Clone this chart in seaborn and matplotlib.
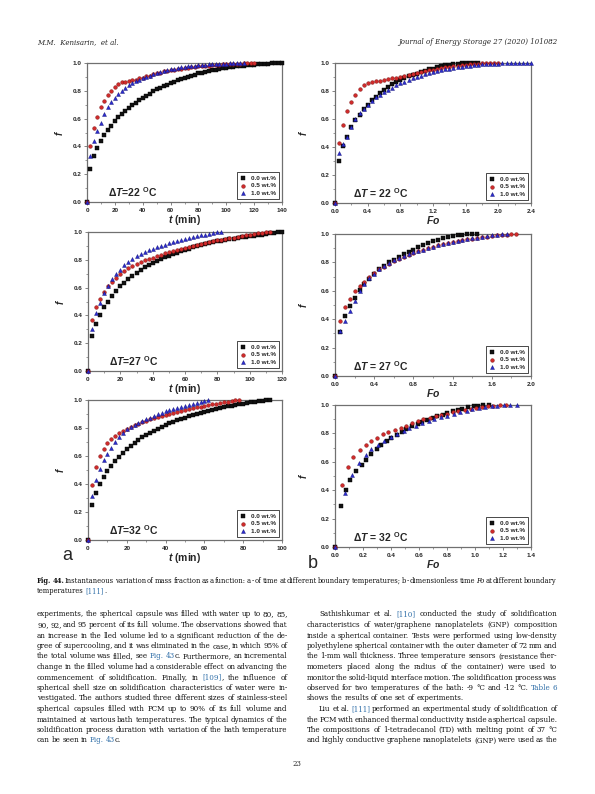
import matplotlib
matplotlib.use('Agg')
import matplotlib.pyplot as plt
import seaborn as sns
import numpy as np
from matplotlib.ticker import MultipleLocator, FormatStrFormatter
from matplotlib.font_manager import FontProperties

W, H = 595, 794

# ---- data ----
SERIES = ['0.0 wt.%', '0.5 wt.%', '1.0 wt.%']

# time grid (min) used in panels a (22 and 27 C)
T_MIN = [0, 2.5, 5, 7.5, 10, 12.5, 15, 17.5, 20, 22.5, 25, 27.5, 30, 32.5, 35, 37.5,
         40, 42.5, 45, 47.5, 50, 52.5, 55, 57.5, 60, 62.5, 65, 67.5, 70, 72.5, 75,
         77.5, 80, 82.5, 85, 87.5, 90, 92.5, 95, 97.5, 100, 102.5, 105, 107.5, 110,
         112.5, 115, 117.5, 120, 122.5, 125, 127.5, 130, 132.5, 135, 137.5, 140]
# time grid (min) for 32 C
T_MIN32 = [0, 2, 4, 6, 8, 10, 12, 14, 16, 18, 20, 22, 24, 26, 28, 30, 32, 34, 36, 38,
           40, 42, 44, 46, 48, 50, 52, 54, 56, 58, 60, 62, 64, 66, 68, 70, 72, 74, 76,
           78, 80, 82, 84, 86, 88, 90, 92, 94]
# Fo grid for panels b (22 and 27 C)
FO = [0, 0.05, 0.1, 0.15, 0.2, 0.25, 0.3, 0.35, 0.4, 0.45, 0.5, 0.55, 0.6, 0.65, 0.7,
      0.75, 0.8, 0.85, 0.9, 0.95, 1.0, 1.05, 1.1, 1.15, 1.2, 1.25, 1.3, 1.35, 1.4, 1.45,
      1.5, 1.55, 1.6, 1.65, 1.7, 1.75, 1.8, 1.85, 1.9, 1.95, 2.0, 2.05, 2.1, 2.15, 2.2,
      2.25, 2.3, 2.35, 2.4]

f22_t_00 = [0, 0.24, 0.33, 0.39, 0.44, 0.48, 0.52, 0.55, 0.58, 0.61,
            0.63, 0.655, 0.675, 0.695, 0.715, 0.735, 0.75, 0.765, 0.78, 0.795,
            0.81, 0.82, 0.835, 0.845, 0.855, 0.865, 0.875, 0.885, 0.893, 0.90,
            0.91, 0.917, 0.925, 0.93, 0.937, 0.943, 0.948, 0.953, 0.958, 0.962,
            0.966, 0.97, 0.973, 0.976, 0.979, 0.981, 0.984, 0.986, 0.988, 0.99,
            0.992, 0.994, 0.995, 0.997, 0.998, 0.999, 1.0]
f22_t_05 = [0, 0.40, 0.53, 0.61, 0.68, 0.73, 0.77, 0.80, 0.83, 0.85,
            0.86, 0.865, 0.87, 0.875, 0.88, 0.89, 0.895, 0.905, 0.91, 0.92,
            0.925, 0.93, 0.94, 0.945, 0.95, 0.953, 0.957, 0.96, 0.963, 0.966,
            0.97, 0.972, 0.975, 0.977, 0.98, 0.982, 0.984, 0.986, 0.988, 0.99,
            0.991, 0.993, 0.994, 0.995, 0.996, 0.997, 0.998, 0.999, 1.0]
f22_t_10 = [0, 0.33, 0.44, 0.51, 0.57, 0.63, 0.68, 0.72, 0.75, 0.78,
            0.80, 0.82, 0.84, 0.855, 0.87, 0.88, 0.89, 0.90, 0.91, 0.92,
            0.93, 0.935, 0.94, 0.95, 0.955, 0.96, 0.964, 0.968, 0.972, 0.975,
            0.978, 0.981, 0.984, 0.986, 0.988, 0.99, 0.992, 0.993, 0.994, 0.995,
            0.996, 0.997, 0.998, 0.999, 1.0, 1.0]

f27_t_00 = [0, 0.25, 0.34, 0.40, 0.46, 0.50, 0.54, 0.575, 0.61, 0.635,
            0.66, 0.685, 0.705, 0.725, 0.745, 0.76, 0.775, 0.79, 0.805, 0.82,
            0.83, 0.84, 0.85, 0.86, 0.87, 0.88, 0.89, 0.898, 0.905, 0.912,
            0.92, 0.926, 0.932, 0.938, 0.943, 0.948, 0.953, 0.958, 0.962, 0.966,
            0.97, 0.974, 0.978, 0.982, 0.986, 0.99, 0.994, 0.997, 1.0]
f27_t_05 = [0, 0.365, 0.46, 0.52, 0.57, 0.61, 0.64, 0.67, 0.695, 0.72,
            0.74, 0.755, 0.77, 0.785, 0.795, 0.805, 0.815, 0.826, 0.836, 0.846,
            0.855, 0.863, 0.872, 0.88, 0.888, 0.895, 0.902, 0.909, 0.915, 0.921,
            0.927, 0.933, 0.94, 0.945, 0.95, 0.955, 0.96, 0.965, 0.97, 0.975,
            0.98, 0.985, 0.99, 0.994, 0.997, 1.0]
f27_t_10 = [0, 0.30, 0.415, 0.49, 0.56, 0.61, 0.66, 0.70, 0.73, 0.76,
            0.785, 0.805, 0.825, 0.84, 0.855, 0.868, 0.88, 0.89, 0.90, 0.91,
            0.92, 0.928, 0.935, 0.942, 0.95, 0.955, 0.962, 0.968, 0.975, 0.98,
            0.986, 0.992, 0.997, 1.0]

f32_t_00 = [0, 0.25, 0.335, 0.40, 0.45, 0.49, 0.53, 0.565, 0.595, 0.625,
            0.65, 0.675, 0.695, 0.715, 0.735, 0.75, 0.765, 0.78, 0.795, 0.81,
            0.82, 0.835, 0.845, 0.855, 0.865, 0.875, 0.885, 0.893, 0.90, 0.91,
            0.917, 0.924, 0.93, 0.937, 0.943, 0.95, 0.955, 0.96, 0.965, 0.97,
            0.975, 0.98, 0.984, 0.988, 0.992, 0.995, 0.998, 1.0]
f32_t_05 = [0, 0.395, 0.525, 0.60, 0.65, 0.69, 0.72, 0.745, 0.765, 0.78,
            0.795, 0.808, 0.82, 0.832, 0.843, 0.853, 0.862, 0.872, 0.88, 0.888,
            0.895, 0.903, 0.91, 0.917, 0.923, 0.93, 0.936, 0.942, 0.948, 0.953,
            0.958, 0.963, 0.968, 0.973, 0.978, 0.983, 0.988, 0.993, 0.997, 1.0]
f32_t_10 = [0, 0.315, 0.43, 0.51, 0.57, 0.615, 0.66, 0.70, 0.735, 0.765,
            0.79, 0.805, 0.82, 0.835, 0.85, 0.862, 0.875, 0.887, 0.898, 0.908,
            0.918, 0.928, 0.937, 0.945, 0.953, 0.96, 0.967, 0.974, 0.981, 0.988,
            0.994, 1.0]

f22_fo_00 = [0, 0.30, 0.41, 0.47, 0.54, 0.59, 0.63, 0.67, 0.70, 0.735,
             0.76, 0.785, 0.81, 0.83, 0.85, 0.865, 0.88, 0.895, 0.905, 0.915,
             0.925, 0.935, 0.945, 0.955, 0.96, 0.97, 0.977, 0.983, 0.988, 0.992,
             0.995, 0.997, 0.999, 1.0, 1.0, 1.0]
f22_fo_05 = [0, 0.43, 0.56, 0.655, 0.725, 0.775, 0.815, 0.84, 0.855, 0.862,
             0.868, 0.873, 0.878, 0.884, 0.89, 0.896, 0.902, 0.908, 0.915, 0.922,
             0.928, 0.935, 0.941, 0.947, 0.953, 0.958, 0.963, 0.968, 0.973, 0.977,
             0.981, 0.985, 0.988, 0.991, 0.994, 0.996, 0.998, 0.999, 1.0, 1.0, 1.0]
f22_fo_10 = [0, 0.36, 0.42, 0.475, 0.54, 0.60, 0.64, 0.67, 0.70, 0.73,
             0.755, 0.775, 0.795, 0.81, 0.825, 0.84, 0.855, 0.865, 0.878, 0.89,
             0.90, 0.91, 0.918, 0.927, 0.935, 0.942, 0.948, 0.955, 0.96, 0.965,
             0.97, 0.975, 0.979, 0.982, 0.985, 0.988, 0.99, 0.992, 0.994, 0.995,
             0.996, 0.997, 0.998, 0.999, 1.0, 1.0, 1.0, 1.0, 1.0]

f27_fo_00 = [0, 0.31, 0.42, 0.49, 0.55, 0.605, 0.65, 0.685, 0.72, 0.75,
             0.775, 0.80, 0.82, 0.84, 0.86, 0.875, 0.89, 0.905, 0.92, 0.935,
             0.948, 0.96, 0.97, 0.978, 0.985, 0.991, 0.996, 1.0, 1.0, 1.0]
f27_fo_05 = [0, 0.39, 0.485, 0.545, 0.60, 0.635, 0.665, 0.695, 0.725, 0.75,
             0.77, 0.79, 0.81, 0.825, 0.84, 0.855, 0.868, 0.88, 0.89, 0.90,
             0.91, 0.92, 0.928, 0.936, 0.944, 0.951, 0.957, 0.963, 0.968, 0.973,
             0.978, 0.982, 0.986, 0.99, 0.993, 0.996, 0.998, 1.0]
f27_fo_10 = [0, 0.32, 0.39, 0.46, 0.53, 0.60, 0.65, 0.69, 0.72, 0.75,
             0.775, 0.795, 0.815, 0.83, 0.845, 0.86, 0.87, 0.88, 0.89, 0.90,
             0.91, 0.92, 0.928, 0.936, 0.944, 0.951, 0.958, 0.964, 0.97, 0.975,
             0.98, 0.985, 0.99, 0.994, 0.997, 1.0]

fo32_00 = [0, 0.04, 0.08, 0.11, 0.15, 0.19, 0.22, 0.26, 0.30, 0.33,
           0.37, 0.40, 0.44, 0.48, 0.51, 0.55, 0.59, 0.62, 0.66, 0.70,
           0.73, 0.77, 0.80, 0.84, 0.88, 0.91, 0.95, 0.99, 1.02, 1.06, 1.10]
f32_fo_00 = [0, 0.29, 0.40, 0.47, 0.535, 0.575, 0.615, 0.655, 0.69, 0.72,
             0.745, 0.77, 0.79, 0.81, 0.83, 0.85, 0.865, 0.88, 0.895, 0.91,
             0.92, 0.93, 0.945, 0.955, 0.965, 0.975, 0.985, 0.99, 0.995, 1.0, 1.0]
fo32_05 = [0, 0.05, 0.09, 0.13, 0.18, 0.22, 0.26, 0.30, 0.34, 0.38,
           0.43, 0.47, 0.51, 0.55, 0.59, 0.63, 0.68, 0.72, 0.76, 0.80,
           0.84, 0.88, 0.93, 0.97, 1.01, 1.05, 1.09, 1.13, 1.18, 1.22]
f32_fo_05 = [0, 0.435, 0.565, 0.635, 0.685, 0.72, 0.75, 0.77, 0.795, 0.81,
             0.825, 0.84, 0.855, 0.87, 0.885, 0.90, 0.91, 0.92, 0.93, 0.94,
             0.95, 0.96, 0.965, 0.972, 0.978, 0.984, 0.99, 0.994, 0.997, 1.0]
fo32_10 = [0, 0.07, 0.12, 0.17, 0.22, 0.26, 0.31, 0.35, 0.40, 0.44,
           0.49, 0.53, 0.58, 0.62, 0.67, 0.71, 0.76, 0.80, 0.85, 0.89,
           0.94, 0.98, 1.03, 1.07, 1.12, 1.16, 1.21, 1.25, 1.30]
f32_fo_10 = [0, 0.38, 0.51, 0.59, 0.65, 0.69, 0.72, 0.75, 0.775, 0.795,
             0.815, 0.835, 0.855, 0.87, 0.885, 0.90, 0.915, 0.925, 0.94, 0.95,
             0.96, 0.97, 0.978, 0.985, 0.99, 0.994, 0.997, 0.999, 1.0]

# ---- page text ----
CAPTION = [
    '#Fig. #44. Instantaneous variation of mass fraction as a function: a - of time at '
    'different boundary temperatures; b - dimensionless time ~Fo at different boundary',
    'temperatures @[111]|.',
]
LEFT = [
    'experiments, the spherical capsule was filled with water up to 80, 85,',
    '90, 92, and 95 percent of its full volume. The observations showed that',
    'an increase in the lled volume led to a significant reduction of the de-',
    'gree of supercooling, and it was eliminated in the case, in which 95% of',
    'the total volume was filled, see @Fig. @43|c. Furthermore, an incremental',
    'change in the filled volume had a considerable effect on advancing the',
    'commencement of solidification. Finally, in @[109]|, the influence of',
    'spherical shell size on solidification characteristics of water were in-',
    'vestigated. The authors studied three different sizes of stainless-steel',
    'spherical capsules filled with PCM up to 90% of its full volume and',
    'maintained at various bath temperatures. The typical dynamics of the',
    'solidification process duration with variation of the bath temperature',
    'can be seen in @Fig. @43|c.',
]
RIGHT = [
    'Sathishkumar et al. @[110] conducted the study of solidification',
    'characteristics of water/graphene nanoplatelets (GNP) composition',
    'inside a spherical container. Tests were performed using low-density',
    'polyethylene spherical container with the outer diameter of 72 mm and',
    'the 1-mm wall thickness. Three temperature sensors (resistance ther-',
    'mometers placed along the radius of the container) were used to',
    'monitor the solid-liquid interface motion. The solidification process was',
    'observed for two temperatures of the bath: -9 °C and -12 °C. @Table @6',
    'shows the results of one set of experiments.',
    'Liu et al. @[111] performed an experimental study of solidification of',
    'the PCM with enhanced thermal conductivity inside a spherical capsule.',
    'The compositions of 1-tetradecanol (TD) with melting point of 37 °C',
    'and highly conductive graphene nanoplatelets (GNP) were used as the',
]

# ---- styling ----
MARKERS = ['s', 'o', '^']
FACE = ['#111111', '#d02a2a', '#2a2ad0']
EDGE = ['#000000', '#7a1010', '#101070']
SIZES = [5, 7, 8]

sns.set_style('ticks')
plt.rcParams['font.family'] = ['Liberation Sans', 'DejaVu Sans']
plt.rcParams['mathtext.fontset'] = 'custom'
plt.rcParams['mathtext.rm'] = 'Liberation Sans:bold'
plt.rcParams['mathtext.it'] = 'Liberation Sans:italic:bold'
plt.rcParams['mathtext.bf'] = 'Liberation Sans:bold'

fig = plt.figure(figsize=(W / 100, H / 100), dpi=100)
fig.patch.set_facecolor('white')


def rect(l, r, t, b):
    return [l / W, 1 - b / H, (r - l) / W, (b - t) / H]


def panel(box, xs, ys, xmax, xmajor, xlabel, note, ylabpad):
    ax = fig.add_axes(box)
    for i in range(3):
        x = xs[i][:len(ys[i])]
        sns.scatterplot(x=x, y=ys[i], ax=ax, marker=MARKERS[i], s=SIZES[i],
                        color=FACE[i], edgecolor=EDGE[i], linewidth=0.3,
                        label=SERIES[i], clip_on=False, zorder=3 + i)
    ax.set_xlim(0, xmax)
    ax.set_ylim(0, 1.0)
    ax.xaxis.set_major_locator(MultipleLocator(xmajor))
    ax.xaxis.set_minor_locator(MultipleLocator(xmajor / 2))
    ax.yaxis.set_major_locator(MultipleLocator(0.2))
    ax.yaxis.set_minor_locator(MultipleLocator(0.1))
    ax.yaxis.set_major_formatter(FormatStrFormatter('%.1f'))
    if xmajor < 1:
        ax.xaxis.set_major_formatter(FormatStrFormatter('%.1f'))
    else:
        ax.xaxis.set_major_formatter(FormatStrFormatter('%d'))
    for s in ax.spines.values():
        s.set_color('#707070')
        s.set_linewidth(0.9)
    ax.tick_params(which='major', direction='out', length=2.5, width=0.6,
                   color='#707070', labelsize=4.6, pad=1.5)
    ax.tick_params(which='minor', direction='out', length=1.4, width=0.5,
                   color='#707070')
    for lab in ax.get_xticklabels() + ax.get_yticklabels():
        lab.set_fontweight('bold')
    ax.set_xlabel(xlabel, fontsize=7.5, fontweight='bold', labelpad=0.5)
    ax.set_ylabel(r'$f$', fontsize=7, labelpad=ylabpad)
    ax.text(0.11 if ylabpad < 7 else 0.09, 0.035, note, transform=ax.transAxes,
            fontsize=7.5, fontweight='bold', va='baseline', ha='left')
    leg = ax.legend(loc='lower right', prop={'weight': 'bold', 'size': 4.6},
                    frameon=True, fancybox=False, edgecolor='black', framealpha=1,
                    borderpad=0.5, labelspacing=0.35, handlelength=0.8,
                    handletextpad=0.9, borderaxespad=0.45)
    leg.get_frame().set_linewidth(0.5)
    return ax


tlab = r'$t$ (min)'
folab = r'$Fo$'
panel(rect(87, 282, 63, 202), [T_MIN] * 3, [f22_t_00, f22_t_05, f22_t_10],
      140, 20, tlab, r'$\Delta T$=22 $^{\rm O}$C', 5.5)
panel(rect(88, 282, 232, 371), [T_MIN] * 3, [f27_t_00, f27_t_05, f27_t_10],
      120, 20, tlab, r'$\Delta T$=27 $^{\rm O}$C', 5.5)
panel(rect(88, 282, 400, 540), [T_MIN32] * 3, [f32_t_00, f32_t_05, f32_t_10],
      100, 20, tlab, r'$\Delta T$=32 $^{\rm O}$C', 5.5)
panel(rect(335, 531, 63, 203), [FO] * 3, [f22_fo_00, f22_fo_05, f22_fo_10],
      2.4, 0.4, folab, r'$\Delta T$ = 22 $^{\rm O}$C', 8)
panel(rect(335, 531, 234, 376), [FO] * 3, [f27_fo_00, f27_fo_05, f27_fo_10],
      2.0, 0.4, folab, r'$\Delta T$ = 27 $^{\rm O}$C', 8)
panel(rect(335, 531, 405, 547), [fo32_00, fo32_05, fo32_10],
      [f32_fo_00, f32_fo_05, f32_fo_10],
      1.4, 0.2, folab, r'$\Delta T$ = 32 $^{\rm O}$C', 8)

fig.text(67 / W, 1 - 555 / H, 'a', fontsize=13, ha='center', va='center')
fig.text(313 / W, 1 - 563 / H, 'b', fontsize=13, ha='center', va='center')

renderer = fig.canvas.get_renderer()
SERIF = 'DejaVu Serif'
LINK = '#2f6ea8'


def parse(word):
    segs = []
    for seg in word.split('|'):
        color, style, weight = '#111111', 'normal', 'normal'
        while seg[:1] in ('@', '~', '#') and len(seg) > 1:
            if seg[0] == '@':
                color = LINK
            elif seg[0] == '~':
                style = 'italic'
            else:
                weight = 'bold'
            seg = seg[1:]
        segs.append((seg, color, style, weight))
    return segs


def width(s, size, style, weight):
    fp = FontProperties(family=SERIF, size=size, style=style, weight=weight)
    return renderer.get_text_width_height_descent(s, fp, ismath=False)[0]


def natural(text, size):
    words = [parse(w) for w in text.split(' ')]
    wl = sum(width(s, size, st, wt) for segs in words for s, c, st, wt in segs)
    return wl + size * 100 / 72 * 0.13 * (len(words) - 1)


def fit(lines, span, start=10.0):
    # largest size at which every justified line still fits its column
    ratio = max(natural(t, start) / w for t, w in zip(lines, span))
    return start / ratio


def line(x0, x1, y, text, size, justify=True):
    words = [parse(w) for w in text.split(' ')]
    wl = [sum(width(s, size, st, wt) for s, c, st, wt in segs) for segs in words]
    gap = size * 100 / 72 * 0.26
    if justify and len(words) > 1:
        gap = (x1 - x0 - sum(wl)) / (len(words) - 1)
    x = x0
    for segs, w in zip(words, wl):
        xx = x
        for s, c, st, wt in segs:
            fig.text(xx / W, 1 - y / H, s, fontsize=size, family=SERIF, color=c,
                     style=st, weight=wt, ha='left', va='baseline')
            xx += width(s, size, st, wt)
        x += w + gap


fig.text(37 / W, 1 - 44 / H, 'M.M.  Kenisarin,  et al.', fontsize=5.0, family=SERIF,
         style='italic', va='baseline')
fig.text(557 / W, 1 - 44 / H, 'Journal of Energy Storage 27 (2020) 101082', fontsize=5.0,
         family=SERIF, style='italic', va='baseline', ha='right')

CAP = min(5.5, fit(CAPTION[:1], [520]))
line(37, 557, 583, CAPTION[0], CAP)
line(37, 557, 593, CAPTION[1], CAP, justify=False)

lx0, lx1, rx0, rx1, ind = 37, 287.5, 306.7, 557.3, 12.3
just_left = [t for i, t in enumerate(LEFT) if i != len(LEFT) - 1]
just_right = [t for i, t in enumerate(RIGHT) if i != 8]
spans = [lx1 - lx0] * len(just_left) + \
        [rx1 - rx0 - (ind if i in (0, 9) else 0) for i in range(len(RIGHT)) if i != 8]
BODY = min(6.6, fit(just_left + just_right, spans))

for i, txt in enumerate(LEFT):
    line(lx0, lx1, 616.5 + 10.5 * i, txt, BODY, justify=(i != len(LEFT) - 1))
for i, txt in enumerate(RIGHT):
    x0 = rx0 + ind if i in (0, 9) else rx0
    line(x0, rx1, 616.5 + 10.5 * i, txt, BODY, justify=(i != 8))

fig.text(297 / W, 1 - 766 / H, '23', fontsize=5.0, family=SERIF, ha='center',
         va='baseline')

fig.savefig('out.png', dpi=100)
